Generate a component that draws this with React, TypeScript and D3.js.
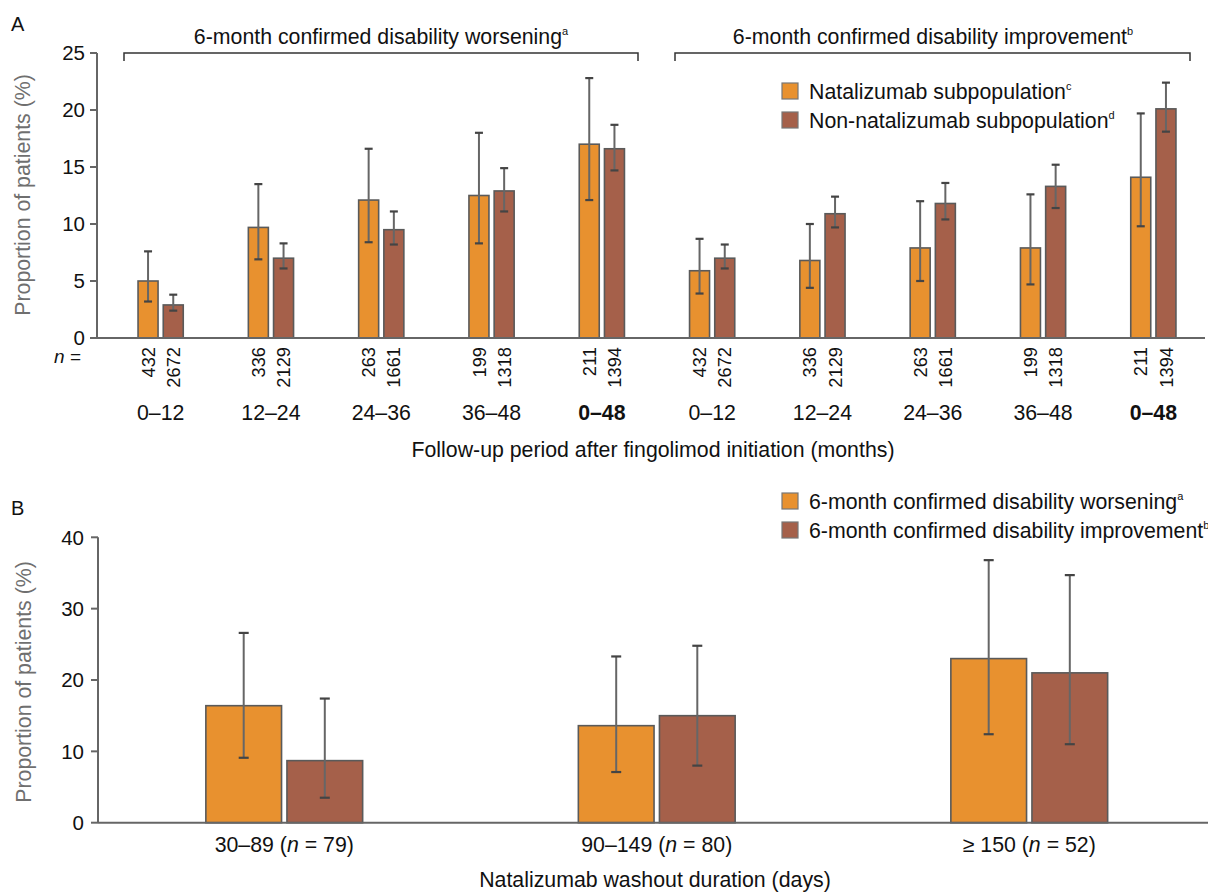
import React from "react";
import * as d3 from "d3";

// ---------- Panel A data ----------
const periods = ["0–12", "12–24", "24–36", "36–48", "0–48"];
const boldPeriod = [false, false, false, false, true];
const natN = [432, 336, 263, 199, 211];
const nonN = [2672, 2129, 1661, 1318, 1394];

const cdwNat = [5.0, 9.7, 12.1, 12.5, 17.0];
const cdwNatLo = [3.2, 6.9, 8.4, 8.3, 12.1];
const cdwNatHi = [7.6, 13.5, 16.6, 18.0, 22.8];
const cdwNon = [2.9, 7.0, 9.5, 12.9, 16.6];
const cdwNonLo = [2.4, 6.1, 8.2, 11.1, 14.7];
const cdwNonHi = [3.8, 8.3, 11.1, 14.9, 18.7];

const cdiNat = [5.9, 6.8, 7.9, 7.9, 14.1];
const cdiNatLo = [3.9, 4.4, 5.0, 4.7, 9.8];
const cdiNatHi = [8.7, 10.0, 12.0, 12.6, 19.7];
const cdiNon = [7.0, 10.9, 11.8, 13.3, 20.1];
const cdiNonLo = [6.1, 9.7, 10.4, 11.4, 18.1];
const cdiNonHi = [8.2, 12.4, 13.6, 15.2, 22.4];

const yTicksA = [0, 5, 10, 15, 20, 25];

// ---------- Panel B data ----------
const washout = ["30–89", "90–149", "≥ 150"];
const washoutN = [79, 80, 52];
const cdwB = [16.4, 13.6, 23.0];
const cdwBLo = [9.1, 7.1, 12.4];
const cdwBHi = [26.6, 23.3, 36.8];
const cdiB = [8.7, 15.0, 21.0];
const cdiBLo = [3.5, 8.0, 11.0];
const cdiBHi = [17.4, 24.8, 34.7];
const yTicksB = [0, 10, 20, 30, 40];

const ORANGE = "#E8912F";
const BROWN = "#A5604A";
const FONT = "'Liberation Sans', Arial, Helvetica, sans-serif";
const FS = 21.3;

type Bar = { key: string; cx: number; v: number; lo: number; hi: number; fill: string };

function ErrBar({ x, y1, y2, cap }: { x: number; y1: number; y2: number; cap: number }) {
  return (
    <g>
      <line x1={x} x2={x} y1={y1} y2={y2} stroke="#666" strokeWidth={2} />
      <line x1={x - cap} x2={x + cap} y1={y1} y2={y1} stroke="#444" strokeWidth={2.2} />
      <line x1={x - cap} x2={x + cap} y1={y2} y2={y2} stroke="#444" strokeWidth={2.2} />
    </g>
  );
}

export default function App() {
  // Panel A scales
  const groupsA = d3.range(10).map(String);
  const xA = d3.scaleBand<string>().domain(groupsA).range([105.5, 1208.5]).padding(0);
  const yA = d3.scaleLinear().domain([0, 25]).range([338, 53]);
  const barWA = 20;
  const gapA = 5.2;

  const barsA: Bar[] = [];
  const labelsA: { cx: number; label: string; bold: boolean; nNat: number; nNon: number }[] = [];
  groupsA.forEach((g, i) => {
    const j = i % 5;
    const isCdw = i < 5;
    const c = (xA(g) as number) + xA.bandwidth() / 2;
    const natV = isCdw ? cdwNat : cdiNat;
    const natLo = isCdw ? cdwNatLo : cdiNatLo;
    const natHi = isCdw ? cdwNatHi : cdiNatHi;
    const nonV = isCdw ? cdwNon : cdiNon;
    const nonLo = isCdw ? cdwNonLo : cdiNonLo;
    const nonHi = isCdw ? cdwNonHi : cdiNonHi;
    barsA.push({ key: g + "n", cx: c - gapA / 2 - barWA / 2, v: natV[j], lo: natLo[j], hi: natHi[j], fill: ORANGE });
    barsA.push({ key: g + "o", cx: c + gapA / 2 + barWA / 2, v: nonV[j], lo: nonLo[j], hi: nonHi[j], fill: BROWN });
    labelsA.push({ cx: c, label: periods[j], bold: boldPeriod[j], nNat: natN[j], nNon: nonN[j] });
  });

  // Panel B scales
  const xB = d3.scaleBand<string>().domain(washout).range([98, 1215.5]).padding(0);
  const yB = d3.scaleLinear().domain([0, 40]).range([822.7, 537.3]);
  const barWB = 75.7;
  const gapB = 5.4;
  const barsB: Bar[] = [];
  washout.forEach((w, i) => {
    const c = (xB(w) as number) + xB.bandwidth() / 2;
    barsB.push({ key: w + "a", cx: c - gapB / 2 - barWB / 2, v: cdwB[i], lo: cdwBLo[i], hi: cdwBHi[i], fill: ORANGE });
    barsB.push({ key: w + "b", cx: c + gapB / 2 + barWB / 2, v: cdiB[i], lo: cdiBLo[i], hi: cdiBHi[i], fill: BROWN });
  });

  const axisColor = "#666";

  return (
    <svg
      width={1208}
      height={892}
      style={{ position: "absolute", left: 0, top: 0, background: "#fff" }}
      fontFamily={FONT}
    >
      {/* ============ Panel A ============ */}
      <text x={11} y={31} fontSize={20} fill="#111">A</text>

      {/* group titles and brackets */}
      <text x={381} y={44} fontSize={FS} textAnchor="middle" fill="#111">
        6-month confirmed disability worsening
        <tspan fontSize={11} dy={-9}>a</tspan>
      </text>
      <path d="M124,61V53H638V61" fill="none" stroke="#333" strokeWidth={1.5} />
      <text x={933} y={44} fontSize={FS} textAnchor="middle" fill="#111">
        6-month confirmed disability improvement
        <tspan fontSize={11} dy={-9}>b</tspan>
      </text>
      <path d="M675,61V53H1190V61" fill="none" stroke="#333" strokeWidth={1.5} />

      {/* legend A */}
      <rect x={782} y={83} width={16} height={16} fill={ORANGE} stroke="#777" strokeWidth={1.2} />
      <text x={809} y={98.5} fontSize={FS} fill="#111">
        Natalizumab subpopulation<tspan fontSize={11} dy={-9}>c</tspan>
      </text>
      <rect x={782} y={112} width={16} height={16} fill={BROWN} stroke="#777" strokeWidth={1.2} />
      <text x={809} y={127.5} fontSize={FS} fill="#111">
        Non-natalizumab subpopulation<tspan fontSize={11} dy={-9}>d</tspan>
      </text>

      {/* y axis A */}
      <line x1={97} x2={97} y1={yA(0)} y2={yA(25)} stroke={axisColor} strokeWidth={2} />
      {yTicksA.map((t) => (
        <g key={"ya" + t}>
          <line x1={90} x2={97} y1={yA(t)} y2={yA(t)} stroke={axisColor} strokeWidth={2} />
          <text x={85} y={yA(t)} dy="0.36em" fontSize={20.5} textAnchor="end" fill="#111">{t}</text>
        </g>
      ))}
      <text transform={`translate(30,195) rotate(-90)`} fontSize={FS} textAnchor="middle" fill="#6f6f6f">
        Proportion of patients (%)
      </text>

      {/* bars A */}
      {barsA.map((b) => (
        <g key={b.key}>
          <rect
            x={b.cx - barWA / 2}
            y={yA(b.v)}
            width={barWA}
            height={yA(0) - yA(b.v)}
            fill={b.fill}
            stroke="#5a5a5a"
            strokeWidth={1.6}
          />
          <ErrBar x={b.cx} y1={yA(b.hi)} y2={yA(b.lo)} cap={4} />
        </g>
      ))}
      {/* x axis A */}
      <line x1={97} x2={1205} y1={yA(0)} y2={yA(0)} stroke={axisColor} strokeWidth={2} />

      {/* n labels */}
      <text x={81} y={363} fontSize={19} textAnchor="end" fill="#111">
        <tspan fontStyle="italic">n</tspan> =
      </text>
      {labelsA.map((l, i) => (
        <g key={"la" + i}>
          <text
            transform={`translate(${l.cx - gapA / 2 - barWA / 2},347) rotate(-90)`}
            dy="0.36em"
            fontSize={18.3}
            textAnchor="end"
            fill="#111"
          >
            {l.nNat}
          </text>
          <text
            transform={`translate(${l.cx + gapA / 2 + barWA / 2},347) rotate(-90)`}
            dy="0.36em"
            fontSize={18.3}
            textAnchor="end"
            fill="#111"
          >
            {l.nNon}
          </text>
          <text x={l.cx} y={420} fontSize={FS} textAnchor="middle" fill="#111" fontWeight={l.bold ? "bold" : "normal"}>
            {l.label}
          </text>
        </g>
      ))}
      <text x={653} y={457} fontSize={FS} textAnchor="middle" fill="#111">
        Follow-up period after fingolimod initiation (months)
      </text>

      {/* ============ Panel B ============ */}
      <text x={11} y={515} fontSize={20} fill="#111">B</text>

      {/* legend B */}
      <rect x={782} y={493} width={16} height={16} fill={ORANGE} stroke="#777" strokeWidth={1.2} />
      <text x={809} y={508.5} fontSize={FS} fill="#111">
        6-month confirmed disability worsening<tspan fontSize={11} dy={-9}>a</tspan>
      </text>
      <rect x={782} y={522} width={16} height={16} fill={BROWN} stroke="#777" strokeWidth={1.2} />
      <text x={809} y={537.5} fontSize={FS} fill="#111">
        6-month confirmed disability improvement<tspan fontSize={11} dy={-9}>b</tspan>
      </text>

      {/* y axis B */}
      <line x1={98} x2={98} y1={yB(0)} y2={yB(40)} stroke={axisColor} strokeWidth={2} />
      {yTicksB.map((t) => (
        <g key={"yb" + t}>
          <line x1={91} x2={98} y1={yB(t)} y2={yB(t)} stroke={axisColor} strokeWidth={2} />
          <text x={84} y={yB(t)} dy="0.36em" fontSize={20.5} textAnchor="end" fill="#111">{t}</text>
        </g>
      ))}
      <text transform={`translate(31,682) rotate(-90)`} fontSize={FS} textAnchor="middle" fill="#6f6f6f">
        Proportion of patients (%)
      </text>

      {/* bars B */}
      {barsB.map((b) => (
        <g key={b.key}>
          <rect
            x={b.cx - barWB / 2}
            y={yB(b.v)}
            width={barWB}
            height={yB(0) - yB(b.v)}
            fill={b.fill}
            stroke="#5a5a5a"
            strokeWidth={1.6}
          />
          <ErrBar x={b.cx} y1={yB(b.hi)} y2={yB(b.lo)} cap={5} />
        </g>
      ))}
      <line x1={98} x2={1208} y1={yB(0)} y2={yB(0)} stroke={axisColor} strokeWidth={2} />

      {washout.map((w, i) => (
        <text
          key={"xb" + i}
          x={(xB(w) as number) + xB.bandwidth() / 2}
          y={852}
          fontSize={FS}
          textAnchor="middle"
          fill="#111"
        >
          {w} (<tspan fontStyle="italic">n</tspan> = {washoutN[i]})
        </text>
      ))}
      <text x={655} y={887} fontSize={FS} textAnchor="middle" fill="#111">
        Natalizumab washout duration (days)
      </text>
    </svg>
  );
}
